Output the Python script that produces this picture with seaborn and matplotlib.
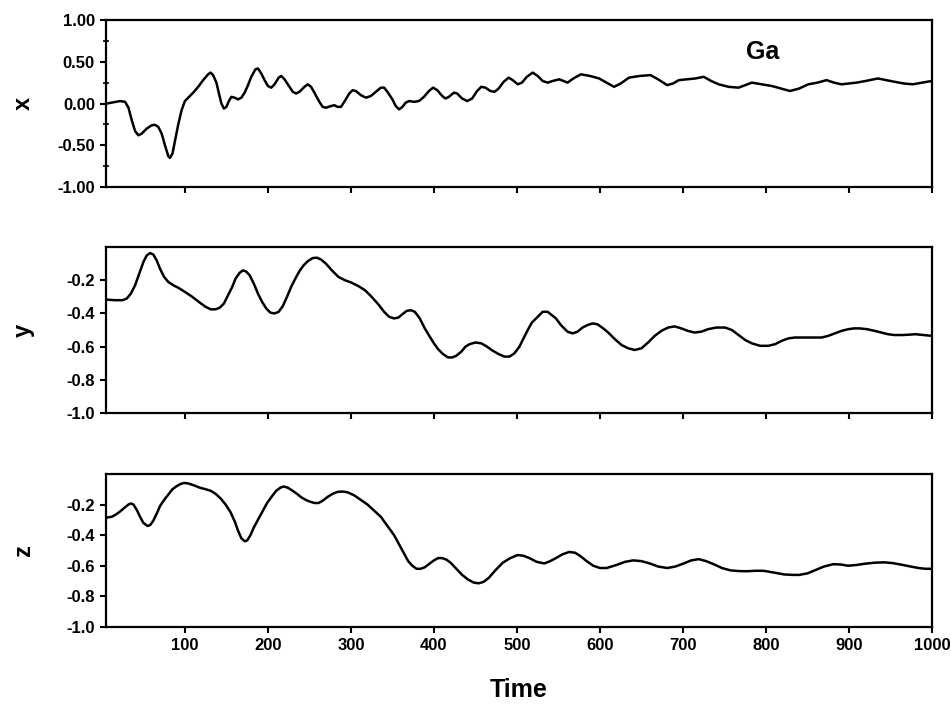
import numpy as np
import pandas as pd
import matplotlib
matplotlib.use("Agg")
import matplotlib.pyplot as plt
import seaborn as sns
from matplotlib.ticker import MultipleLocator

# ---- data ----
t_x = [6, 14, 22, 28, 32, 36, 40, 44, 48, 54, 60, 64, 68, 72, 76, 80, 82, 85, 88, 92, 96, 100,
       105, 110, 116, 122, 128, 131, 134, 138, 141, 144, 147, 150, 153, 156, 160, 164, 168, 172,
       176, 180, 185, 188, 192, 196, 200, 204, 208, 213, 216, 220, 226, 230, 234, 238, 244, 248,
       252, 256, 262, 266, 270, 276, 280, 284, 288, 292, 298, 302, 306, 312, 318, 324, 330, 336,
       340, 344, 350, 354, 358, 362, 366, 370, 376, 382, 388, 394, 399, 404, 410, 414, 418, 424,
       428, 434, 440, 446, 452, 457, 462, 468, 473, 478, 484, 490, 495, 501, 506, 512, 519, 525,
       531, 537, 543, 551, 556, 561, 568, 577, 588, 599, 608, 617, 625, 635, 648, 661, 670, 681,
       688, 695, 705, 715, 725, 734, 743, 755, 767, 775, 783, 795, 807, 818, 829, 840, 851, 862,
       873, 882, 891, 900, 909, 920, 935, 945, 955, 966, 977, 988, 1000]
x_vals = [0.00, 0.015, 0.03, 0.02, -0.05, -0.2, -0.33, -0.38, -0.36, -0.3, -0.26, -0.255, -0.28,
          -0.36, -0.5, -0.63, -0.65, -0.6, -0.45, -0.25, -0.08, 0.03, 0.08, 0.13, 0.2, 0.28, 0.35,
          0.37, 0.34, 0.25, 0.12, 0.0, -0.06, -0.04, 0.03, 0.08, 0.07, 0.05, 0.07, 0.13, 0.22,
          0.32, 0.41, 0.42, 0.36, 0.28, 0.21, 0.19, 0.23, 0.31, 0.33, 0.29, 0.2, 0.14, 0.12, 0.14,
          0.2, 0.23, 0.2, 0.13, 0.02, -0.04, -0.05, -0.03, -0.02, -0.04, -0.04, 0.02, 0.12, 0.16,
          0.15, 0.1, 0.07, 0.09, 0.14, 0.19, 0.19, 0.14, 0.05, -0.03, -0.07, -0.04, 0.01, 0.03,
          0.02, 0.03, 0.08, 0.15, 0.19, 0.16, 0.09, 0.06, 0.08, 0.13, 0.12, 0.06, 0.03, 0.06,
          0.15, 0.2, 0.19, 0.15, 0.14, 0.18, 0.26, 0.31, 0.28, 0.23, 0.25, 0.32, 0.37, 0.33, 0.27,
          0.25, 0.27, 0.29, 0.27, 0.25, 0.3, 0.35, 0.33, 0.3, 0.25, 0.2, 0.24, 0.31, 0.33, 0.34,
          0.29, 0.22, 0.24, 0.28, 0.29, 0.3, 0.32, 0.27, 0.23, 0.2, 0.19, 0.22, 0.25, 0.23, 0.21,
          0.18, 0.15, 0.18, 0.23, 0.25, 0.28, 0.25, 0.23, 0.24, 0.25, 0.27, 0.3, 0.28, 0.26,
          0.24, 0.23, 0.25, 0.27]

t_y = [5, 15, 25, 30, 35, 40, 45, 50, 54, 58, 62, 66, 70, 75, 80, 86, 92, 100, 109, 118, 125,
       131, 137, 142, 147, 152, 157, 161, 166, 170, 174, 178, 183, 188, 193, 198, 203, 208, 213,
       218, 223, 228, 233, 238, 243, 248, 254, 259, 264, 270, 277, 285, 293, 301, 309, 317, 325,
       333, 340, 346, 352, 357, 362, 367, 372, 377, 383, 389, 395, 400, 405, 411, 417, 422, 427,
       433, 438, 443, 450, 457, 464, 471, 478, 485, 491, 497, 503, 508, 513, 518, 525, 531, 537,
       542, 547, 553, 561, 567, 573, 579, 585, 591, 597, 604, 610, 618, 626, 634, 642, 650, 658,
       666, 674, 682, 690, 698, 706, 714, 722, 730, 740, 751, 759, 767, 775, 783, 793, 803, 811,
       819, 827, 835, 851, 867, 875, 883, 891, 899, 906, 913, 922, 931, 939, 947, 955, 964, 972,
       980, 990, 1000]
y_vals = [-0.316, -0.32, -0.32, -0.31, -0.28, -0.23, -0.16, -0.09, -0.05, -0.036, -0.045, -0.08,
          -0.13, -0.18, -0.21, -0.23, -0.245, -0.27, -0.30, -0.335, -0.36, -0.375, -0.375, -0.365,
          -0.34, -0.29, -0.24, -0.19, -0.155, -0.14, -0.148, -0.17, -0.22, -0.28, -0.33, -0.37,
          -0.395, -0.40, -0.39, -0.355, -0.3, -0.24, -0.19, -0.145, -0.11, -0.085, -0.066,
          -0.064, -0.075, -0.1, -0.14, -0.18, -0.2, -0.215, -0.235, -0.26, -0.3, -0.345, -0.39,
          -0.42, -0.43, -0.425, -0.405, -0.385, -0.38, -0.39, -0.43, -0.49, -0.54, -0.58, -0.615,
          -0.645, -0.665, -0.665, -0.655, -0.63, -0.6, -0.585, -0.575, -0.58, -0.6, -0.625,
          -0.645, -0.66, -0.66, -0.64, -0.6, -0.55, -0.5, -0.455, -0.42, -0.39, -0.39, -0.41,
          -0.43, -0.47, -0.51, -0.52, -0.51, -0.485, -0.47, -0.46, -0.465, -0.49, -0.515, -0.555,
          -0.59, -0.61, -0.62, -0.61, -0.575, -0.535, -0.505, -0.485, -0.478, -0.49, -0.505,
          -0.515, -0.51, -0.495, -0.485, -0.485, -0.5, -0.53, -0.56, -0.58, -0.595, -0.595,
          -0.585, -0.565, -0.55, -0.545, -0.545, -0.545, -0.535, -0.52, -0.505, -0.495, -0.49,
          -0.49, -0.495, -0.505, -0.515, -0.525, -0.53, -0.53, -0.528, -0.525, -0.53, -0.535]

t_z = [6, 12, 17, 22, 27, 32, 35, 38, 42, 46, 50, 55, 58, 62, 66, 70, 75, 80, 85, 90, 95, 99,
       104, 111, 118, 125, 131, 137, 143, 149, 155, 160, 164, 168, 172, 175, 179, 183, 188, 193,
       199, 205, 210, 215, 219, 224, 229, 235, 240, 245, 250, 256, 261, 266, 272, 278, 284, 290,
       296, 304, 312, 320, 328, 336, 344, 352, 358, 364, 369, 374, 379, 384, 389, 395, 400, 405,
       410, 415, 420, 427, 434, 441, 448, 454, 460, 466, 474, 483, 492, 501, 508, 515, 524, 533,
       540, 547, 555, 563, 570, 576, 584, 592, 600, 608, 620, 630, 640, 650, 660, 670, 681, 691,
       701, 710, 719, 728, 737, 747, 757, 767, 777, 787, 797, 810, 822, 832, 840, 850, 859, 870,
       881, 890, 899, 909, 919, 931, 943, 953, 963, 974, 984, 992, 1000]
z_vals = [-0.285, -0.28, -0.265, -0.245, -0.222, -0.2, -0.193, -0.2, -0.235, -0.28, -0.32,
          -0.34, -0.335, -0.305, -0.26, -0.21, -0.17, -0.135, -0.1, -0.08, -0.065, -0.059,
          -0.062, -0.075, -0.09, -0.1, -0.11, -0.13, -0.16, -0.2, -0.25, -0.31, -0.37, -0.42,
          -0.44, -0.435, -0.4, -0.35, -0.3, -0.25, -0.19, -0.145, -0.11, -0.09, -0.082, -0.09,
          -0.107, -0.13, -0.152, -0.168, -0.18, -0.19, -0.19, -0.175, -0.15, -0.13, -0.117,
          -0.115, -0.12, -0.14, -0.17, -0.2, -0.24, -0.28, -0.34, -0.4, -0.46, -0.52, -0.57,
          -0.60, -0.62, -0.62, -0.61, -0.585, -0.565, -0.55, -0.55, -0.56, -0.58, -0.62, -0.66,
          -0.69, -0.71, -0.715, -0.705, -0.68, -0.63, -0.58, -0.55, -0.53, -0.535, -0.55,
          -0.575, -0.585, -0.57, -0.55, -0.525, -0.51, -0.515, -0.535, -0.57, -0.60, -0.615,
          -0.615, -0.595, -0.575, -0.565, -0.57, -0.585, -0.605, -0.615, -0.605, -0.585,
          -0.565, -0.557, -0.57, -0.59, -0.615, -0.63, -0.635, -0.636, -0.633, -0.633, -0.645,
          -0.657, -0.66, -0.66, -0.65, -0.63, -0.605, -0.59, -0.592, -0.6, -0.595, -0.587,
          -0.58, -0.578, -0.583, -0.593, -0.605, -0.615, -0.62, -0.62]

panel_labels = ["x", "y", "z"]
x_ticks = [100, 200, 300, 400, 500, 600, 700, 800, 900, 1000]
top_yticks = [-1.0, -0.5, 0.0, 0.5, 1.0]
low_yticks = [-1.0, -0.8, -0.6, -0.4, -0.2]

# ---- styling ----
sns.set_style("ticks")
plt.rcParams["font.family"] = ["Liberation Sans", "DejaVu Sans"]
plt.rcParams["font.weight"] = "bold"
for key in ["text.color", "axes.labelcolor", "xtick.color", "ytick.color", "axes.edgecolor"]:
    plt.rcParams[key] = "black"

fig = plt.figure(figsize=(9.51, 7.06), dpi=100)
positions = [
    [0.1115, 0.735, 0.8685, 0.2367],
    [0.1115, 0.415, 0.8685, 0.235],
    [0.1115, 0.112, 0.8685, 0.2167],
]
series = [(t_x, x_vals), (t_y, y_vals), (t_z, z_vals)]

for i, (pos, (tt, vv), lab) in enumerate(zip(positions, series, panel_labels)):
    ax = fig.add_axes(pos)
    df = pd.DataFrame({"Time": tt, "val": vv})
    sns.lineplot(data=df, x="Time", y="val", ax=ax, color="black", linewidth=1.8,
                 estimator=None, sort=True)
    ax.set_xlim(5, 1000)
    ax.set_xticks(x_ticks)
    if i == 0:
        ax.set_ylim(-1.0, 1.0)
        ax.set_yticks(top_yticks)
        ax.set_yticklabels([f"{v:.2f}" for v in top_yticks])
        ax.yaxis.set_minor_locator(MultipleLocator(0.25))
        ax.tick_params(axis="y", which="minor", direction="inout", length=4, width=1.2)
        ax.text(0.795, 0.81, "Ga", transform=ax.transAxes, fontsize=18,
                fontweight="bold", ha="center", va="center")
    else:
        ax.set_ylim(-1.0, 0.0)
        ax.set_yticks(low_yticks)
        ax.set_yticklabels([f"{v:.1f}" for v in low_yticks])
    if i < 2:
        ax.set_xticklabels([])
        ax.set_xlabel("")
    else:
        ax.set_xticklabels([str(v) for v in x_ticks])
        ax.set_xlabel("Time", fontsize=18, fontweight="bold", labelpad=18)
    ax.set_ylabel(lab, fontsize=17, fontweight="bold")
    ax.yaxis.set_label_coords(-0.086, 0.5)
    ax.tick_params(axis="both", which="major", direction="out", length=4, width=1.5,
                   labelsize=12, pad=4)
    for lbl in ax.get_xticklabels() + ax.get_yticklabels():
        lbl.set_fontweight("bold")
    for sp in ax.spines.values():
        sp.set_visible(True)
        sp.set_linewidth(1.6)
        sp.set_color("black")

fig.savefig("out.png", dpi=100)
